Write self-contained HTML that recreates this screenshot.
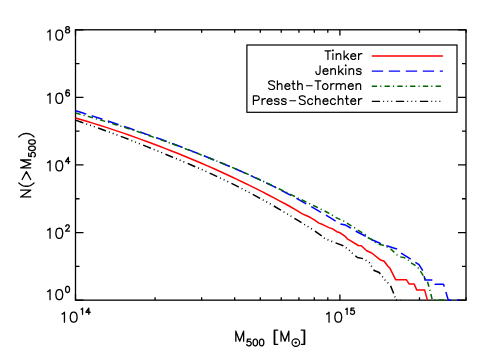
<!DOCTYPE html>
<html><head><meta charset="utf-8"><title>N(&gt;M500) vs M500</title>
<style>
html,body{margin:0;padding:0;background:#fff;}
svg{display:block;}
text{font-family:"Liberation Sans",sans-serif;fill:#000;opacity:0;}
.g{fill:none;stroke:#000;stroke-linecap:round;stroke-linejoin:round;}
</style></head><body>
<svg width="504" height="360" viewBox="0 0 504 360">
<rect x="0" y="0" width="504" height="360" fill="#fff"/>

<g stroke="#000" stroke-width="1.3" fill="none" stroke-linecap="butt">
<rect x="75.50" y="29.80" width="390.50" height="270.35"/>
<path d="M75.50 300.15 V294.55 M75.50 29.80 V35.40"/>
<path d="M155.09 300.15 V297.25 M155.09 29.80 V32.70"/>
<path d="M201.65 300.15 V297.25 M201.65 29.80 V32.70"/>
<path d="M234.68 300.15 V297.25 M234.68 29.80 V32.70"/>
<path d="M260.31 300.15 V297.25 M260.31 29.80 V32.70"/>
<path d="M281.24 300.15 V297.25 M281.24 29.80 V32.70"/>
<path d="M298.94 300.15 V297.25 M298.94 29.80 V32.70"/>
<path d="M314.28 300.15 V297.25 M314.28 29.80 V32.70"/>
<path d="M327.80 300.15 V297.25 M327.80 29.80 V32.70"/>
<path d="M339.90 300.15 V294.55 M339.90 29.80 V35.40"/>
<path d="M419.49 300.15 V297.25 M419.49 29.80 V32.70"/>
<path d="M466.05 300.15 V297.25 M466.05 29.80 V32.70"/>
<path d="M75.50 300.15 H83.50 M466.00 300.15 H458.00"/>
<path d="M75.50 266.36 H79.50 M466.00 266.36 H462.00"/>
<path d="M75.50 232.56 H83.50 M466.00 232.56 H458.00"/>
<path d="M75.50 198.77 H79.50 M466.00 198.77 H462.00"/>
<path d="M75.50 164.97 H83.50 M466.00 164.97 H458.00"/>
<path d="M75.50 131.18 H79.50 M466.00 131.18 H462.00"/>
<path d="M75.50 97.39 H83.50 M466.00 97.39 H458.00"/>
<path d="M75.50 63.59 H79.50 M466.00 63.59 H462.00"/>
<path d="M75.50 29.80 H83.50 M466.00 29.80 H458.00"/>
</g>
<g fill="none" stroke-linejoin="round">
<path d="M75.5 118.0 L81.5 119.8 L87.5 121.5 L93.5 123.4 L99.5 125.2 L105.5 127.1 L111.5 129.1 L117.5 131.1 L123.5 133.1 L129.5 135.2 L135.5 137.4 L141.5 139.6 L147.5 141.8 L153.5 144.0 L159.5 146.3 L165.5 148.6 L171.5 151.0 L177.5 153.3 L183.5 155.8 L189.5 158.2 L195.5 160.7 L201.5 163.3 L207.5 165.9 L213.5 168.5 L219.5 171.2 L225.5 174.0 L231.5 176.8 L237.5 179.6 L243.5 182.5 L249.5 185.4 L255.5 188.4 L261.5 191.4 L267.5 194.5 L273.5 197.6 L279.5 200.8 L285.5 204.0 L290.0 206.5 L296.7 210.3 L301.1 213.1 L304.4 214.8 L310.0 217.3 L314.4 219.8 L318.9 223.1 L323.3 224.8 L328.9 227.6 L332.2 228.7 L336.8 231.7 L340.2 232.8 L345.2 236.3 L347.7 239.2 L350.0 240.4 L358.3 245.5 L361.3 245.7 L366.7 250.8 L371.7 253.0 L380.0 259.7 L384.2 261.3 L387.5 265.8 L390.0 268.3 L395.6 279.7 L406.3 279.7 L409.2 284.1 L414.2 284.1 L416.7 289.9 L424.6 289.9 L427.4 300.1" stroke="#ff0000" stroke-width="1.5"/>
<path d="M75.5 110.7 L81.5 112.5 L87.5 114.5 L93.5 116.4 L99.5 118.3 L105.5 120.2 L111.5 122.2 L117.5 124.2 L123.5 126.3 L129.5 128.3 L135.5 130.4 L141.5 132.5 L147.5 134.6 L153.5 136.7 L159.5 138.8 L165.5 141.0 L171.5 143.2 L177.5 145.5 L183.5 147.7 L189.5 150.1 L195.5 152.5 L201.5 154.8 L207.5 157.3 L213.5 159.7 L219.5 162.1 L225.5 164.7 L231.5 167.2 L237.5 169.8 L243.5 172.4 L249.5 175.1 L255.5 177.9 L261.5 180.6 L267.5 183.5 L273.5 186.4 L279.5 189.5 L285.5 192.5 L291.5 195.7 L297.5 198.9 L303.5 202.3 L309.5 205.6 L315.5 209.1 L316.0 209.4 L326.0 215.2 L333.3 219.6 L340.6 224.1 L345.2 224.9 L350.6 228.0 L358.3 232.5 L366.7 236.7 L372.5 240.0 L380.0 243.3 L386.7 245.8 L396.7 249.0 L400.8 253.0 L409.2 258.2 L415.0 262.2 L419.0 264.7 L423.0 271.0 L425.0 280.0 L434.0 280.0 L435.0 284.2 L443.5 284.2 L448.3 300.1 L459.2 300.1" stroke="#0000ff" stroke-width="1.5" stroke-dasharray="11.3 5.7"/>
<path d="M75.5 113.0 L81.5 114.6 L87.5 116.3 L93.5 118.0 L99.5 119.7 L105.5 121.5 L111.5 123.3 L117.5 125.2 L123.5 127.0 L129.5 129.0 L135.5 130.9 L141.5 132.9 L147.5 135.0 L153.5 137.1 L159.5 139.2 L165.5 141.4 L171.5 143.6 L177.5 145.8 L183.5 148.1 L189.5 150.4 L195.5 152.7 L201.5 155.0 L207.5 157.3 L213.5 159.7 L219.5 162.1 L225.5 164.5 L231.5 167.1 L237.5 169.7 L243.5 172.3 L249.5 175.0 L255.5 177.7 L261.5 180.4 L267.5 183.3 L273.5 186.1 L279.5 189.0 L285.5 191.9 L291.5 194.9 L297.5 197.8 L303.5 200.7 L309.5 203.6 L315.5 206.5 L321.5 209.5 L327.5 212.5 L330.0 213.7 L335.2 217.2 L340.6 219.7 L343.5 220.9 L346.8 223.0 L351.4 225.9 L354.3 227.6 L357.5 230.0 L362.1 232.7 L365.0 234.3 L367.9 237.5 L372.5 240.2 L375.0 242.2 L378.8 244.2 L383.3 245.2 L390.0 248.3 L396.7 254.6 L399.3 256.7 L404.8 257.8 L408.1 259.9 L410.2 262.3 L414.8 265.1 L417.7 267.3 L419.8 270.2 L422.2 273.8 L423.9 277.2 L427.4 281.4 L429.4 288.3 L431.5 296.7 L432.3 300.1 L447.5 300.1" stroke="#006400" stroke-width="1.5" stroke-dasharray="5.3 3.05 1.2 3.22"/>
<path d="M75.5 120.1 L81.5 122.2 L87.5 124.3 L93.5 126.4 L99.5 128.5 L105.5 130.7 L111.5 132.9 L117.5 135.1 L123.5 137.4 L129.5 139.7 L135.5 142.1 L141.5 144.5 L147.5 146.9 L153.5 149.3 L159.5 151.7 L165.5 154.2 L171.5 156.7 L177.5 159.1 L183.5 161.7 L189.5 164.2 L195.5 166.8 L201.5 169.4 L207.5 172.1 L213.5 174.9 L219.5 177.7 L225.5 180.5 L231.5 183.4 L237.5 186.4 L243.5 189.5 L249.5 192.6 L255.5 195.8 L261.5 199.1 L267.5 202.4 L273.5 205.8 L279.5 209.3 L285.5 212.9 L291.5 216.5 L297.5 220.2 L303.5 223.9 L309.5 227.5 L313.3 229.9 L321.7 235.8 L325.0 238.7 L333.3 242.0 L343.3 245.8 L348.3 249.2 L353.3 254.2 L357.5 257.5 L363.3 258.7 L369.2 262.5 L374.2 270.5 L379.2 272.5 L385.0 280.0 L390.3 285.2 L393.0 291.7 L395.2 297.5 L395.9 300.1 L400.5 300.1" stroke="#000000" stroke-width="1.5" stroke-dasharray="8.3 3.05 1 3.05 1 3.05 1 3.6"/>
</g>
<path class="g" d="M47.62 31.97 L48.59 31.50 L50.05 30.06 L50.05 40.10 M58.79 30.06 L57.34 30.54 L56.36 31.97 L55.88 34.36 L55.88 35.80 L56.36 38.19 L57.34 39.62 L58.79 40.10 L59.77 40.10 L61.22 39.62 L62.20 38.19 L62.68 35.80 L62.68 34.36 L62.20 31.97 L61.22 30.54 L59.77 30.06 L58.79 30.06" stroke-width="1.3"/>
<path class="g" d="M66.98 26.70 L66.12 27.00 L65.84 27.59 L65.84 28.18 L66.12 28.77 L66.70 29.06 L67.84 29.36 L68.69 29.65 L69.26 30.24 L69.55 30.83 L69.55 31.72 L69.26 32.31 L68.98 32.60 L68.12 32.90 L66.98 32.90 L66.12 32.60 L65.84 32.31 L65.56 31.72 L65.56 30.83 L65.84 30.24 L66.41 29.65 L67.27 29.36 L68.41 29.06 L68.98 28.77 L69.26 28.18 L69.26 27.59 L68.98 27.00 L68.12 26.70 L66.98 26.70" stroke-width="1.3"/>
<text x="46" y="40.1" font-size="16">10<tspan dy="-7" font-size="10">8</tspan></text>
<path class="g" d="M47.62 95.17 L48.59 94.70 L50.05 93.26 L50.05 103.30 M58.79 93.26 L57.34 93.74 L56.36 95.17 L55.88 97.56 L55.88 99.00 L56.36 101.39 L57.34 102.82 L58.79 103.30 L59.77 103.30 L61.22 102.82 L62.20 101.39 L62.68 99.00 L62.68 97.56 L62.20 95.17 L61.22 93.74 L59.77 93.26 L58.79 93.26" stroke-width="1.3"/>
<path class="g" d="M69.26 90.79 L68.98 90.20 L68.12 89.91 L67.55 89.91 L66.70 90.20 L66.12 91.08 L65.84 92.56 L65.84 94.03 L66.12 95.21 L66.70 95.80 L67.55 96.10 L67.84 96.10 L68.69 95.80 L69.26 95.21 L69.55 94.33 L69.55 94.03 L69.26 93.15 L68.69 92.56 L67.84 92.27 L67.55 92.27 L66.70 92.56 L66.12 93.15 L65.84 94.03" stroke-width="1.3"/>
<text x="46" y="103.3" font-size="16">10<tspan dy="-7" font-size="10">6</tspan></text>
<path class="g" d="M47.62 162.67 L48.59 162.20 L50.05 160.76 L50.05 170.80 M58.79 160.76 L57.34 161.24 L56.36 162.67 L55.88 165.06 L55.88 166.50 L56.36 168.89 L57.34 170.32 L58.79 170.80 L59.77 170.80 L61.22 170.32 L62.20 168.89 L62.68 166.50 L62.68 165.06 L62.20 162.67 L61.22 161.24 L59.77 160.76 L58.79 160.76" stroke-width="1.3"/>
<path class="g" d="M68.41 157.41 L65.56 161.54 L69.83 161.54 M68.41 157.41 L68.41 163.60" stroke-width="1.3"/>
<text x="46" y="170.8" font-size="16">10<tspan dy="-7" font-size="10">4</tspan></text>
<path class="g" d="M47.62 230.17 L48.59 229.70 L50.05 228.26 L50.05 238.30 M58.79 228.26 L57.34 228.74 L56.36 230.17 L55.88 232.56 L55.88 234.00 L56.36 236.39 L57.34 237.82 L58.79 238.30 L59.77 238.30 L61.22 237.82 L62.20 236.39 L62.68 234.00 L62.68 232.56 L62.20 230.17 L61.22 228.74 L59.77 228.26 L58.79 228.26" stroke-width="1.3"/>
<path class="g" d="M65.84 226.38 L65.84 226.09 L66.12 225.50 L66.41 225.20 L66.98 224.91 L68.12 224.91 L68.69 225.20 L68.98 225.50 L69.26 226.09 L69.26 226.68 L68.98 227.27 L68.41 228.15 L65.56 231.10 L69.55 231.10" stroke-width="1.3"/>
<text x="46" y="238.3" font-size="16">10<tspan dy="-7" font-size="10">2</tspan></text>
<path class="g" d="M47.62 291.57 L48.59 291.10 L50.05 289.66 L50.05 299.70 M58.79 289.66 L57.34 290.14 L56.36 291.57 L55.88 293.96 L55.88 295.40 L56.36 297.79 L57.34 299.22 L58.79 299.70 L59.77 299.70 L61.22 299.22 L62.20 297.79 L62.68 295.40 L62.68 293.96 L62.20 291.57 L61.22 290.14 L59.77 289.66 L58.79 289.66" stroke-width="1.3"/>
<path class="g" d="M67.27 286.31 L66.41 286.60 L65.84 287.49 L65.56 288.96 L65.56 289.85 L65.84 291.32 L66.41 292.20 L67.27 292.50 L67.84 292.50 L68.69 292.20 L69.26 291.32 L69.55 289.85 L69.55 288.96 L69.26 287.49 L68.69 286.60 L67.84 286.31 L67.27 286.31" stroke-width="1.3"/>
<text x="46" y="299.7" font-size="16">10<tspan dy="-7" font-size="10">0</tspan></text>
<path class="g" d="M62.02 314.07 L62.99 313.60 L64.45 312.16 L64.45 322.20 M73.19 312.16 L71.74 312.64 L70.76 314.07 L70.28 316.46 L70.28 317.90 L70.76 320.29 L71.74 321.72 L73.19 322.20 L74.17 322.20 L75.62 321.72 L76.60 320.29 L77.08 317.90 L77.08 316.46 L76.60 314.07 L75.62 312.64 L74.17 312.16 L73.19 312.16" stroke-width="1.3"/>
<path class="g" d="M81.11 309.29 L81.68 308.99 L82.54 308.11 L82.54 314.30 M88.81 308.11 L85.96 312.24 L90.23 312.24 M88.81 308.11 L88.81 314.30" stroke-width="1.3"/>
<text x="61.1" y="322" font-size="16">10<tspan dy="-7" font-size="10">14</tspan></text>
<path class="g" d="M326.62 314.07 L327.59 313.60 L329.05 312.16 L329.05 322.20 M337.79 312.16 L336.34 312.64 L335.36 314.07 L334.88 316.46 L334.88 317.90 L335.36 320.29 L336.34 321.72 L337.79 322.20 L338.77 322.20 L340.22 321.72 L341.20 320.29 L341.68 317.90 L341.68 316.46 L341.20 314.07 L340.22 312.64 L338.77 312.16 L337.79 312.16" stroke-width="1.3"/>
<path class="g" d="M345.71 309.29 L346.28 308.99 L347.13 308.11 L347.13 314.30 M353.97 308.11 L351.12 308.11 L350.84 310.76 L351.12 310.47 L351.98 310.17 L352.83 310.17 L353.69 310.47 L354.26 311.06 L354.55 311.94 L354.55 312.53 L354.26 313.42 L353.69 314.00 L352.83 314.30 L351.98 314.30 L351.12 314.00 L350.84 313.71 L350.56 313.12" stroke-width="1.3"/>
<text x="325.7" y="322" font-size="16">10<tspan dy="-7" font-size="10">15</tspan></text>
<path class="g" d="M235.84 331.16 L235.84 341.20 M235.84 331.16 L239.73 341.20 M243.62 331.16 L239.73 341.20 M243.62 331.16 L243.62 341.20" stroke-width="1.3"/>
<path class="g" d="M250.59 339.19 L247.44 339.19 L247.12 342.02 L247.44 341.70 L248.38 341.39 L249.33 341.39 L250.27 341.70 L250.90 342.34 L251.22 343.28 L251.22 343.91 L250.90 344.86 L250.27 345.49 L249.33 345.80 L248.38 345.80 L247.44 345.49 L247.12 345.17 L246.81 344.54 M255.00 339.19 L254.05 339.50 L253.42 340.44 L253.11 342.02 L253.11 342.97 L253.42 344.54 L254.05 345.49 L255.00 345.80 L255.63 345.80 L256.57 345.49 L257.20 344.54 L257.52 342.97 L257.52 342.02 L257.20 340.44 L256.57 339.50 L255.63 339.19 L255.00 339.19 M261.30 339.19 L260.35 339.50 L259.72 340.44 L259.41 342.02 L259.41 342.97 L259.72 344.54 L260.35 345.49 L261.30 345.80 L261.93 345.80 L262.87 345.49 L263.50 344.54 L263.82 342.97 L263.82 342.02 L263.50 340.44 L262.87 339.50 L261.93 339.19 L261.30 339.19" stroke-width="1.3"/>
<path class="g" d="M274.24 330.20 L274.24 344.28 M274.73 330.20 L274.73 344.28 M274.24 330.20 L277.65 330.20 M274.24 344.28 L277.65 344.28" stroke-width="1.3"/>
<path class="g" d="M281.05 331.16 L281.05 341.20 M281.05 331.16 L284.94 341.20 M288.82 331.16 L284.94 341.20 M288.82 331.16 L288.82 341.20" stroke-width="1.3"/>
<circle cx="295.8" cy="342.6" r="3.8" fill="none" stroke="#000" stroke-width="1.2"/><circle cx="295.8" cy="342.6" r="1.2" fill="#000"/>
<path class="g" d="M304.17 330.20 L304.17 344.28 M304.66 330.20 L304.66 344.28 M301.26 330.20 L304.66 330.20 M301.26 344.28 L304.66 344.28" stroke-width="1.3"/>
<text x="234" y="341.5" font-size="16">M<tspan dy="4" font-size="10">500</tspan><tspan dy="-4"> [M</tspan><tspan dy="4" font-size="10">⊙</tspan><tspan dy="-4">]</tspan></text>
<g transform="translate(30.7,198.9) rotate(-90)">
<path class="g" d="M1.94 -10.04 L1.94 0.00 M1.94 -10.04 L8.75 0.00 M8.75 -10.04 L8.75 0.00 M16.04 -11.95 L15.07 -10.99 L14.09 -9.56 L13.12 -7.65 L12.64 -5.26 L12.64 -3.35 L13.12 -0.96 L14.09 0.96 L15.07 2.39 L16.04 3.35 M19.44 -8.60 L27.22 -4.30 L19.44 0.00 M31.10 -10.04 L31.10 0.00 M31.10 -10.04 L34.99 0.00 M38.88 -10.04 L34.99 0.00 M38.88 -10.04 L38.88 0.00" stroke-width="1.3"/>
<path class="g" d="M45.85 -2.02 L42.70 -2.02 L42.38 0.82 L42.70 0.50 L43.64 0.19 L44.59 0.19 L45.53 0.50 L46.16 1.13 L46.48 2.08 L46.48 2.71 L46.16 3.65 L45.53 4.28 L44.59 4.60 L43.64 4.60 L42.70 4.28 L42.38 3.97 L42.07 3.34 M50.26 -2.02 L49.31 -1.70 L48.68 -0.76 L48.37 0.82 L48.37 1.76 L48.68 3.34 L49.31 4.28 L50.26 4.60 L50.89 4.60 L51.83 4.28 L52.46 3.34 L52.78 1.76 L52.78 0.82 L52.46 -0.76 L51.83 -1.70 L50.89 -2.02 L50.26 -2.02 M56.56 -2.02 L55.61 -1.70 L54.98 -0.76 L54.67 0.82 L54.67 1.76 L54.98 3.34 L55.61 4.28 L56.56 4.60 L57.19 4.60 L58.13 4.28 L58.76 3.34 L59.08 1.76 L59.08 0.82 L58.76 -0.76 L58.13 -1.70 L57.19 -2.02 L56.56 -2.02" stroke-width="1.3"/>
<path class="g" d="M61.98 -11.95 L62.95 -10.99 L63.93 -9.56 L64.90 -7.65 L65.38 -5.26 L65.38 -3.35 L64.90 -0.96 L63.93 0.96 L62.95 2.39 L61.98 3.35" stroke-width="1.3"/>
<text x="0" y="0" font-size="16">N(&gt;M<tspan dy="4" font-size="10">500</tspan><tspan dy="-4">)</tspan></text>
</g>
<rect x="246.9" y="45" width="210.1" height="67.3" fill="#fff" stroke="#000" stroke-width="1.2"/>
<path class="g" d="M327.94 50.80 L327.94 59.50 M325.04 50.80 L330.83 50.80 M332.49 50.39 L332.91 50.80 L333.32 50.39 L332.91 49.97 L332.49 50.39 M332.91 53.70 L332.91 59.50 M336.22 53.70 L336.22 59.50 M336.22 55.36 L337.46 54.12 L338.29 53.70 L339.53 53.70 L340.36 54.12 L340.78 55.36 L340.78 59.50 M344.09 50.80 L344.09 59.50 M348.23 53.70 L344.09 57.84 M345.75 56.19 L348.65 59.50 M350.72 56.19 L355.69 56.19 L355.69 55.36 L355.27 54.53 L354.86 54.12 L354.03 53.70 L352.79 53.70 L351.96 54.12 L351.13 54.94 L350.72 56.19 L350.72 57.01 L351.13 58.26 L351.96 59.09 L352.79 59.50 L354.03 59.50 L354.86 59.09 L355.69 58.26 M358.59 53.70 L358.59 59.50 M358.59 56.19 L359.00 54.94 L359.83 54.12 L360.66 53.70 L361.90 53.70" stroke-width="1.2"/>
<text x="361.6" y="59.5" font-size="13.3" text-anchor="end">Tinker</text>
<path d="M371.8 56.0 H442.9" stroke="#ff0000" stroke-width="1.35" fill="none"/>
<path class="g" d="M320.07 65.80 L320.07 72.43 L319.65 73.67 L319.24 74.09 L318.41 74.50 L317.58 74.50 L316.75 74.09 L316.34 73.67 L315.92 72.43 L315.92 71.60 M322.97 71.19 L327.94 71.19 L327.94 70.36 L327.52 69.53 L327.11 69.12 L326.28 68.70 L325.04 68.70 L324.21 69.12 L323.38 69.94 L322.97 71.19 L322.97 72.01 L323.38 73.26 L324.21 74.09 L325.04 74.50 L326.28 74.50 L327.11 74.09 L327.94 73.26 M330.83 68.70 L330.83 74.50 M330.83 70.36 L332.08 69.12 L332.91 68.70 L334.15 68.70 L334.98 69.12 L335.39 70.36 L335.39 74.50 M338.70 65.80 L338.70 74.50 M342.85 68.70 L338.70 72.84 M340.36 71.19 L343.26 74.50 M345.33 65.39 L345.75 65.80 L346.16 65.39 L345.75 64.97 L345.33 65.39 M345.75 68.70 L345.75 74.50 M349.06 68.70 L349.06 74.50 M349.06 70.36 L350.30 69.12 L351.13 68.70 L352.37 68.70 L353.20 69.12 L353.62 70.36 L353.62 74.50 M361.07 69.94 L360.66 69.12 L359.41 68.70 L358.17 68.70 L356.93 69.12 L356.52 69.94 L356.93 70.77 L357.76 71.19 L359.83 71.60 L360.66 72.01 L361.07 72.84 L361.07 73.26 L360.66 74.09 L359.41 74.50 L358.17 74.50 L356.93 74.09 L356.52 73.26" stroke-width="1.2"/>
<text x="361.6" y="74.5" font-size="13.3" text-anchor="end">Jenkins</text>
<path d="M371.8 71.1 H442.9" stroke="#0000ff" stroke-width="1.35" fill="none" stroke-dasharray="11.3 5.7"/>
<path class="g" d="M274.50 82.04 L273.68 81.22 L272.43 80.80 L270.78 80.80 L269.53 81.22 L268.70 82.04 L268.70 82.87 L269.12 83.70 L269.53 84.12 L270.36 84.53 L272.85 85.36 L273.68 85.77 L274.09 86.19 L274.50 87.01 L274.50 88.26 L273.68 89.09 L272.43 89.50 L270.78 89.50 L269.53 89.09 L268.70 88.26 M277.40 80.80 L277.40 89.50 M277.40 85.36 L278.65 84.12 L279.47 83.70 L280.72 83.70 L281.55 84.12 L281.96 85.36 L281.96 89.50 M284.86 86.19 L289.83 86.19 L289.83 85.36 L289.41 84.53 L289.00 84.12 L288.17 83.70 L286.93 83.70 L286.10 84.12 L285.27 84.94 L284.86 86.19 L284.86 87.01 L285.27 88.26 L286.10 89.09 L286.93 89.50 L288.17 89.50 L289.00 89.09 L289.83 88.26 M293.14 80.80 L293.14 87.84 L293.56 89.09 L294.39 89.50 L295.21 89.50 M291.90 83.70 L294.80 83.70 M297.70 80.80 L297.70 89.50 M297.70 85.36 L298.94 84.12 L299.77 83.70 L301.01 83.70 L301.84 84.12 L302.26 85.36 L302.26 89.50 M306.40 85.77 L312.20 85.77 M317.99 80.80 L317.99 89.50 M315.10 80.80 L320.89 80.80 M324.62 83.70 L323.79 84.12 L322.97 84.94 L322.55 86.19 L322.55 87.01 L322.97 88.26 L323.79 89.09 L324.62 89.50 L325.86 89.50 L326.69 89.09 L327.52 88.26 L327.94 87.01 L327.94 86.19 L327.52 84.94 L326.69 84.12 L325.86 83.70 L324.62 83.70 M330.83 83.70 L330.83 89.50 M330.83 86.19 L331.25 84.94 L332.08 84.12 L332.91 83.70 L334.15 83.70 M336.22 83.70 L336.22 89.50 M336.22 85.36 L337.46 84.12 L338.29 83.70 L339.53 83.70 L340.36 84.12 L340.78 85.36 L340.78 89.50 M340.78 85.36 L342.02 84.12 L342.85 83.70 L344.09 83.70 L344.92 84.12 L345.33 85.36 L345.33 89.50 M348.23 86.19 L353.20 86.19 L353.20 85.36 L352.79 84.53 L352.37 84.12 L351.54 83.70 L350.30 83.70 L349.47 84.12 L348.65 84.94 L348.23 86.19 L348.23 87.01 L348.65 88.26 L349.47 89.09 L350.30 89.50 L351.54 89.50 L352.37 89.09 L353.20 88.26 M356.10 83.70 L356.10 89.50 M356.10 85.36 L357.34 84.12 L358.17 83.70 L359.41 83.70 L360.24 84.12 L360.66 85.36 L360.66 89.50" stroke-width="1.2"/>
<text x="361.6" y="89.5" font-size="13.3" text-anchor="end">Sheth-Tormen</text>
<path d="M371.8 86.2 H442.9" stroke="#006400" stroke-width="1.35" fill="none" stroke-dasharray="5.3 3.05 1.2 3.22"/>
<path class="g" d="M253.38 95.80 L253.38 104.50 M253.38 95.80 L257.11 95.80 L258.35 96.22 L258.76 96.63 L259.18 97.46 L259.18 98.70 L258.76 99.53 L258.35 99.94 L257.11 100.36 L253.38 100.36 M262.08 98.70 L262.08 104.50 M262.08 101.19 L262.49 99.94 L263.32 99.12 L264.15 98.70 L265.39 98.70 M267.05 101.19 L272.02 101.19 L272.02 100.36 L271.60 99.53 L271.19 99.12 L270.36 98.70 L269.12 98.70 L268.29 99.12 L267.46 99.94 L267.05 101.19 L267.05 102.01 L267.46 103.26 L268.29 104.09 L269.12 104.50 L270.36 104.50 L271.19 104.09 L272.02 103.26 M279.06 99.94 L278.65 99.12 L277.40 98.70 L276.16 98.70 L274.92 99.12 L274.50 99.94 L274.92 100.77 L275.75 101.19 L277.82 101.60 L278.65 102.01 L279.06 102.84 L279.06 103.26 L278.65 104.09 L277.40 104.50 L276.16 104.50 L274.92 104.09 L274.50 103.26 M286.10 99.94 L285.69 99.12 L284.44 98.70 L283.20 98.70 L281.96 99.12 L281.55 99.94 L281.96 100.77 L282.79 101.19 L284.86 101.60 L285.69 102.01 L286.10 102.84 L286.10 103.26 L285.69 104.09 L284.44 104.50 L283.20 104.50 L281.96 104.09 L281.55 103.26 M289.83 100.77 L295.63 100.77 M305.15 97.04 L304.33 96.22 L303.08 95.80 L301.43 95.80 L300.18 96.22 L299.36 97.04 L299.36 97.87 L299.77 98.70 L300.18 99.12 L301.01 99.53 L303.50 100.36 L304.33 100.77 L304.74 101.19 L305.15 102.01 L305.15 103.26 L304.33 104.09 L303.08 104.50 L301.43 104.50 L300.18 104.09 L299.36 103.26 M312.61 99.94 L311.78 99.12 L310.95 98.70 L309.71 98.70 L308.88 99.12 L308.05 99.94 L307.64 101.19 L307.64 102.01 L308.05 103.26 L308.88 104.09 L309.71 104.50 L310.95 104.50 L311.78 104.09 L312.61 103.26 M315.51 95.80 L315.51 104.50 M315.51 100.36 L316.75 99.12 L317.58 98.70 L318.82 98.70 L319.65 99.12 L320.07 100.36 L320.07 104.50 M322.97 101.19 L327.94 101.19 L327.94 100.36 L327.52 99.53 L327.11 99.12 L326.28 98.70 L325.04 98.70 L324.21 99.12 L323.38 99.94 L322.97 101.19 L322.97 102.01 L323.38 103.26 L324.21 104.09 L325.04 104.50 L326.28 104.50 L327.11 104.09 L327.94 103.26 M335.39 99.94 L334.56 99.12 L333.73 98.70 L332.49 98.70 L331.66 99.12 L330.83 99.94 L330.42 101.19 L330.42 102.01 L330.83 103.26 L331.66 104.09 L332.49 104.50 L333.73 104.50 L334.56 104.09 L335.39 103.26 M338.29 95.80 L338.29 104.50 M338.29 100.36 L339.53 99.12 L340.36 98.70 L341.60 98.70 L342.43 99.12 L342.85 100.36 L342.85 104.50 M346.57 95.80 L346.57 102.84 L346.99 104.09 L347.82 104.50 L348.65 104.50 M345.33 98.70 L348.23 98.70 M350.72 101.19 L355.69 101.19 L355.69 100.36 L355.27 99.53 L354.86 99.12 L354.03 98.70 L352.79 98.70 L351.96 99.12 L351.13 99.94 L350.72 101.19 L350.72 102.01 L351.13 103.26 L351.96 104.09 L352.79 104.50 L354.03 104.50 L354.86 104.09 L355.69 103.26 M358.59 98.70 L358.59 104.50 M358.59 101.19 L359.00 99.94 L359.83 99.12 L360.66 98.70 L361.90 98.70" stroke-width="1.2"/>
<text x="361.6" y="104.5" font-size="13.3" text-anchor="end">Press-Schechter</text>
<path d="M371.8 101.3 H442.9" stroke="#000000" stroke-width="1.35" fill="none" stroke-dasharray="8.3 3.05 1 3.05 1 3.05 1 3.6"/>
</svg></body></html>
